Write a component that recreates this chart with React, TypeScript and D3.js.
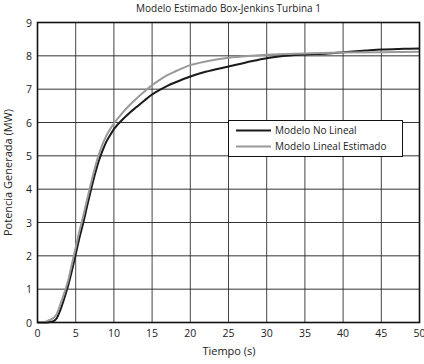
import React from "react";
import * as d3 from "d3";

const title = "Modelo Estimado Box-Jenkins Turbina 1";
const xLabel = "Tiempo (s)";
const yLabel = "Potencia Generada (MW)";
const xTicks = [0, 5, 10, 15, 20, 25, 30, 35, 40, 45, 50];
const yTicks = [0, 1, 2, 3, 4, 5, 6, 7, 8, 9];
const seriesNames = ["Modelo No Lineal", "Modelo Lineal Estimado"];

const tNoLineal = [0, 1, 1.5, 2, 2.5, 3, 3.5, 4, 4.5, 5, 5.5, 6, 6.5, 7, 7.5, 8, 8.5, 9, 9.5, 10, 11, 12, 13, 14, 15, 16, 17, 18, 20, 22, 25, 28, 30, 33, 35, 38, 40, 43, 45, 48, 50];
const vNoLineal = [0, 0, 0.01, 0.03, 0.12, 0.38, 0.72, 1.1, 1.55, 2.05, 2.55, 3.0, 3.5, 3.98, 4.43, 4.83, 5.15, 5.42, 5.62, 5.8, 6.06, 6.28, 6.47, 6.66, 6.84, 6.98, 7.1, 7.2, 7.38, 7.52, 7.68, 7.84, 7.93, 8.01, 8.04, 8.07, 8.11, 8.16, 8.19, 8.21, 8.22];

const tLineal = [0, 1, 1.5, 2, 2.5, 3, 3.5, 4, 4.5, 5, 5.5, 6, 6.5, 7, 7.5, 8, 8.5, 9, 9.5, 10, 11, 12, 13, 14, 15, 16, 17, 18, 20, 22, 25, 28, 30, 35, 40, 45, 50];
const vLineal = [0, 0.02, 0.07, 0.12, 0.25, 0.55, 0.88, 1.25, 1.75, 2.25, 2.75, 3.2, 3.7, 4.18, 4.63, 5.02, 5.34, 5.6, 5.8, 5.97, 6.26, 6.51, 6.73, 6.93, 7.12, 7.28, 7.42, 7.53, 7.72, 7.83, 7.94, 8.0, 8.03, 8.07, 8.1, 8.11, 8.12];

const W = 424;
const H = 364;
const m = { left: 37.5, right: 419.5, top: 22.5, bottom: 322.5 };
const font = "'Open Sans', 'Noto Sans', sans-serif";

export default function App() {
  const x = d3.scaleLinear().domain([0, 50]).range([m.left, m.right]);
  const y = d3.scaleLinear().domain([0, 9]).range([m.bottom, m.top]);
  const line = d3
    .line<[number, number]>()
    .x((d) => x(d[0]))
    .y((d) => y(d[1]))
    .curve(d3.curveMonotoneX);
  const d1 = line(tNoLineal.map((t, i) => [t, vNoLineal[i]] as [number, number])) || "";
  const d2 = line(tLineal.map((t, i) => [t, vLineal[i]] as [number, number])) || "";

  const lx0 = 228.5, ly0 = 120.5, lw = 174, lh = 36;
  return (
    <svg
      width={W}
      height={H}
      style={{ position: "absolute", left: 0, top: 0, background: "#fff" }}
      fontFamily={font}
    >
      <rect x={0} y={0} width={W} height={H} fill="#fff" />
      {xTicks.map((t) => (
        <line key={"gx" + t} x1={x(t)} x2={x(t)} y1={m.top} y2={m.bottom} stroke="#444" strokeWidth={1} />
      ))}
      {yTicks.map((t) => (
        <line key={"gy" + t} x1={m.left} x2={m.right} y1={y(t)} y2={y(t)} stroke="#333" strokeWidth={1} />
      ))}
      <path d={d1} fill="none" stroke="#1a1a1a" strokeWidth={2} />
      <path d={d2} fill="none" stroke="#9a9a9a" strokeWidth={2} />
      <rect x={m.left} y={m.top} width={m.right - m.left} height={m.bottom - m.top} fill="none" stroke="#111" strokeWidth={1.6} />
      {xTicks.map((t) => (
        <text key={"tx" + t} x={x(t)} y={337} fontSize={10.5} textAnchor="middle" fill="#222">
          {t}
        </text>
      ))}
      {yTicks.map((t) => (
        <text key={"ty" + t} x={32} y={y(t) + 4} fontSize={10.5} textAnchor="end" fill="#222">
          {t}
        </text>
      ))}
      <text x={(m.left + m.right) / 2} y={12} fontSize={10} textAnchor="middle" fill="#222">
        {title}
      </text>
      <text x={229} y={355} fontSize={11} textAnchor="middle" fill="#222">
        {xLabel}
      </text>
      <text
        transform={`translate(12,${(m.top + m.bottom) / 2}) rotate(-90)`}
        fontSize={11}
        textAnchor="middle"
        fill="#222"
      >
        {yLabel}
      </text>
      <rect x={lx0} y={ly0} width={lw} height={lh} fill="#fff" stroke="#111" strokeWidth={1} />
      <line x1={236} x2={271} y1={130.5} y2={130.5} stroke="#1a1a1a" strokeWidth={2} />
      <line x1={236} x2={271} y1={146.5} y2={146.5} stroke="#9a9a9a" strokeWidth={2} />
      <text x={275} y={134} fontSize={10} fill="#222">{seriesNames[0]}</text>
      <text x={275} y={150} fontSize={10} fill="#222">{seriesNames[1]}</text>
    </svg>
  );
}
